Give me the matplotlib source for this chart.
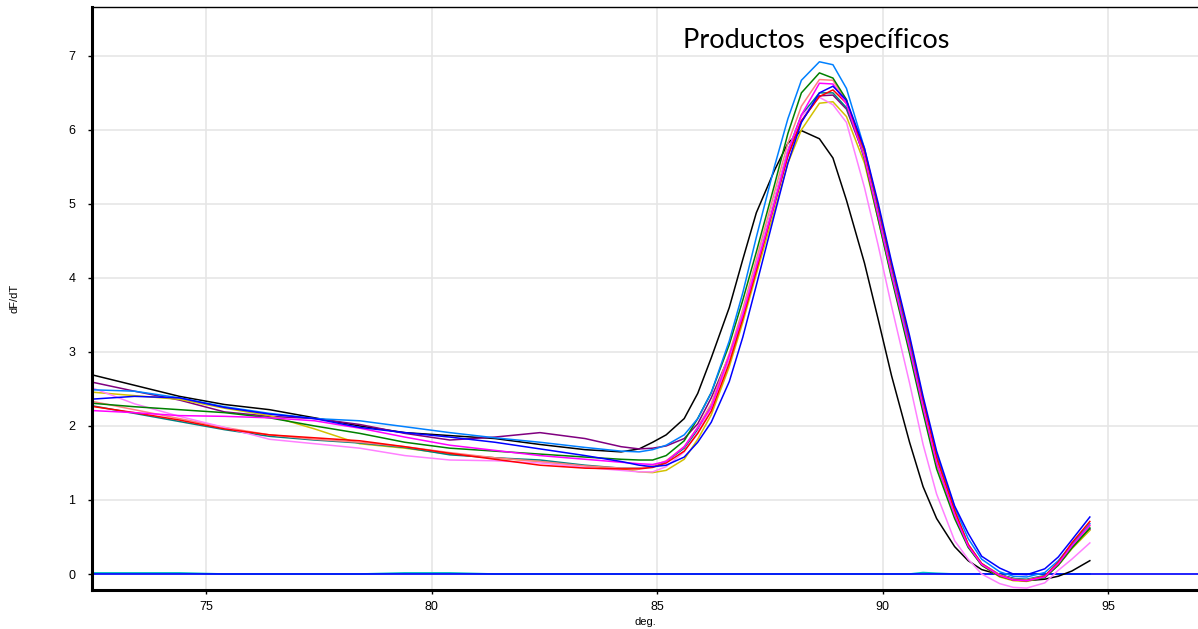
import numpy as np
import matplotlib
matplotlib.use("Agg")
import matplotlib.pyplot as plt

# temperature grid (deg.)
temp = [72.4, 73.4, 74.4, 75.4, 76.4, 77.4, 78.4, 79.4, 80.4, 81.4, 82.4, 83.4,
        84.2, 84.6, 84.9, 85.2, 85.6, 85.9, 86.2, 86.6, 86.9, 87.2, 87.6, 87.9,
        88.2, 88.6, 88.9, 89.2, 89.6, 89.9, 90.2, 90.6, 90.9, 91.2, 91.6, 91.9,
        92.2, 92.6, 92.9, 93.2, 93.6, 93.9, 94.2, 94.6]

# dF/dT per sample
s_black = [2.70, 2.55, 2.40, 2.29, 2.22, 2.11, 2.00, 1.91, 1.87, 1.83, 1.75, 1.68,
           1.65, 1.69, 1.78, 1.88, 2.10, 2.44, 2.92, 3.60, 4.25, 4.88, 5.45, 5.82,
           5.99, 5.88, 5.62, 5.05, 4.20, 3.45, 2.68, 1.78, 1.18, 0.75, 0.37, 0.18,
           0.06, -0.01, -0.06, -0.09, -0.07, -0.03, 0.04, 0.18]
s_purple = [2.60, 2.47, 2.35, 2.19, 2.13, 2.10, 2.02, 1.90, 1.81, 1.85, 1.91, 1.83,
            1.72, 1.69, 1.70, 1.73, 1.83, 2.03, 2.38, 2.95, 3.50, 4.12, 4.98, 5.65,
            6.12, 6.46, 6.47, 6.28, 5.64, 4.88, 4.08, 3.08, 2.26, 1.50, 0.80, 0.38,
            0.12, -0.03, -0.08, -0.09, -0.04, 0.12, 0.35, 0.60]
s_dodger = [2.49, 2.47, 2.38, 2.26, 2.17, 2.10, 2.07, 1.99, 1.91, 1.84, 1.78, 1.71,
            1.66, 1.65, 1.68, 1.74, 1.88, 2.10, 2.45, 3.15, 3.80, 4.55, 5.50, 6.15,
            6.67, 6.92, 6.88, 6.56, 5.75, 4.95, 4.15, 3.10, 2.35, 1.62, 0.90, 0.48,
            0.20, 0.03, -0.03, -0.04, 0.02, 0.18, 0.40, 0.68]
s_gold = [2.46, 2.41, 2.36, 2.24, 2.14, 1.96, 1.76, 1.70, 1.62, 1.57, 1.52, 1.46,
          1.42, 1.38, 1.37, 1.40, 1.55, 1.82, 2.15, 2.80, 3.40, 4.05, 4.90, 5.55,
          6.00, 6.36, 6.38, 6.18, 5.55, 4.80, 4.02, 3.02, 2.22, 1.48, 0.80, 0.38,
          0.12, -0.04, -0.09, -0.10, -0.04, 0.12, 0.34, 0.59]
s_green = [2.31, 2.26, 2.22, 2.18, 2.11, 2.00, 1.90, 1.78, 1.70, 1.66, 1.62, 1.58,
           1.55, 1.54, 1.54, 1.60, 1.80, 2.10, 2.45, 3.10, 3.70, 4.35, 5.25, 5.95,
           6.50, 6.77, 6.70, 6.41, 5.60, 4.80, 4.00, 2.98, 2.18, 1.42, 0.75, 0.36,
           0.12, -0.03, -0.08, -0.09, -0.05, 0.12, 0.35, 0.62]
s_salmon = [2.34, 2.22, 2.10, 1.98, 1.88, 1.82, 1.78, 1.72, 1.64, 1.57, 1.52, 1.46,
            1.43, 1.43, 1.46, 1.53, 1.72, 1.98, 2.30, 2.98, 3.58, 4.25, 5.15, 5.82,
            6.32, 6.68, 6.67, 6.38, 5.65, 4.88, 4.08, 3.08, 2.28, 1.52, 0.82, 0.40,
            0.14, -0.01, -0.07, -0.08, -0.03, 0.14, 0.38, 0.65]
s_teal = [2.28, 2.17, 2.06, 1.95, 1.86, 1.81, 1.77, 1.71, 1.61, 1.57, 1.54, 1.47,
          1.43, 1.43, 1.45, 1.52, 1.70, 1.95, 2.28, 2.92, 3.52, 4.18, 5.05, 5.72,
          6.20, 6.50, 6.50, 6.30, 5.68, 4.92, 4.12, 3.12, 2.30, 1.55, 0.84, 0.40,
          0.14, -0.01, -0.06, -0.07, -0.02, 0.14, 0.37, 0.62]
s_pink = [2.53, 2.30, 2.13, 1.98, 1.82, 1.76, 1.70, 1.60, 1.54, 1.53, 1.50, 1.44,
          1.40, 1.38, 1.38, 1.45, 1.65, 1.92, 2.25, 2.92, 3.52, 4.18, 5.05, 5.72,
          6.18, 6.44, 6.34, 6.10, 5.22, 4.45, 3.62, 2.58, 1.75, 1.08, 0.45, 0.20,
          0.00, -0.13, -0.18, -0.19, -0.12, 0.05, 0.20, 0.42]
s_magenta = [2.21, 2.18, 2.14, 2.13, 2.11, 2.07, 1.97, 1.85, 1.74, 1.67, 1.60, 1.55,
             1.51, 1.49, 1.48, 1.52, 1.72, 1.98, 2.25, 2.95, 3.50, 4.15, 5.00, 5.70,
             6.20, 6.63, 6.62, 6.35, 5.62, 4.85, 4.05, 3.05, 2.25, 1.50, 0.80, 0.38,
             0.13, -0.02, -0.08, -0.09, -0.04, 0.14, 0.38, 0.66]
s_red = [2.27, 2.18, 2.08, 1.96, 1.88, 1.84, 1.80, 1.72, 1.63, 1.55, 1.47, 1.43,
         1.42, 1.42, 1.44, 1.50, 1.66, 1.90, 2.20, 2.85, 3.45, 4.10, 5.00, 5.65,
         6.12, 6.45, 6.54, 6.36, 5.72, 4.98, 4.18, 3.18, 2.36, 1.58, 0.86, 0.40,
         0.14, -0.02, -0.08, -0.09, -0.03, 0.16, 0.42, 0.71]
s_blue = [2.36, 2.40, 2.38, 2.25, 2.16, 2.10, 1.98, 1.91, 1.85, 1.78, 1.69, 1.60,
          1.52, 1.47, 1.45, 1.47, 1.58, 1.78, 2.05, 2.60, 3.20, 3.90, 4.85, 5.55,
          6.10, 6.50, 6.59, 6.40, 5.75, 5.02, 4.22, 3.22, 2.40, 1.66, 0.92, 0.55,
          0.24, 0.08, 0.00, -0.01, 0.07, 0.23, 0.46, 0.77]
# no-template control, sits on the baseline
s_ntc = [0.015, 0.015, 0.015, 0.0, 0.0, 0.0, 0.0, 0.015, 0.015, 0.0, 0.0, 0.0,
         0.0, 0.0, 0.0, 0.0, 0.0, 0.0, 0.0, 0.0, 0.0, 0.0, 0.0, 0.0,
         0.0, 0.0, 0.0, 0.0, 0.0, 0.0, 0.0, 0.0, 0.02, 0.01, 0.0, 0.0,
         0.0, 0.0, 0.0, 0.0, 0.0, 0.0, 0.0, 0.0]

series = [
    (s_black, "#000000"),
    (s_purple, "#800080"),
    (s_gold, "#d2c000"),
    (s_teal, "#008080"),
    (s_salmon, "#ff8080"),
    (s_pink, "#ff80ff"),
    (s_green, "#008000"),
    (s_dodger, "#0080ff"),
    (s_red, "#ff0000"),
    (s_magenta, "#ff00ff"),
    (s_blue, "#0000ff"),
]

fig = plt.figure(figsize=(11.98, 6.29), dpi=100)
ax = fig.add_axes([92 / 1198, 39 / 629, 1106 / 1198, 583 / 629])

ax.grid(True, color="#e6e6e6", lw=1.2)
ax.set_axisbelow(True)

ax.plot(temp, s_ntc, color="#00c0c0", lw=1.2)
ax.axhline(0, color="#0000ff", lw=1.2)
for vals, col in series:
    ax.plot(temp, vals, color=col, lw=1.1)

ax.set_xlim(72.46, 97.0)
ax.set_ylim(-0.216, 7.66)
ax.set_xticks([75, 80, 85, 90, 95])
ax.set_yticks(range(0, 8))

ax.spines["right"].set_visible(False)
ax.spines["left"].set_linewidth(2.2)
ax.spines["bottom"].set_linewidth(2.2)
ax.spines["top"].set_linewidth(1.0)

ax.tick_params(axis="both", direction="out", length=3, width=1, labelsize=9)
ax.tick_params(axis="y", pad=9)
ax.tick_params(axis="x", pad=5)
for lab in ax.get_xticklabels() + ax.get_yticklabels():
    lab.set_fontfamily("Liberation Sans")

ax.set_xlabel("deg.", fontsize=8, family="Liberation Sans")
ax.set_ylabel("dF/dT", fontsize=8, family="Liberation Sans")
ax.xaxis.set_label_coords(0.5, -0.046)
ax.yaxis.set_label_coords(-0.066, 0.5)

ax.text(85.57, 7.10, "Productos  específicos", fontsize=19.5, family="Lato",
        ha="left", va="baseline")

fig.savefig("out.png", dpi=100)
